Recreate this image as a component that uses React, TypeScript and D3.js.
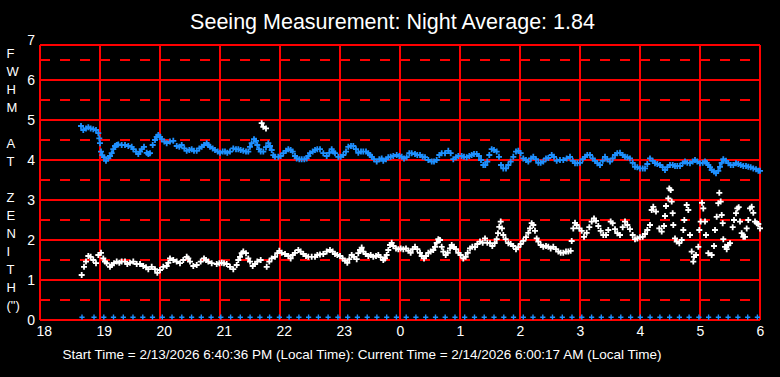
import React from "react";
import * as d3 from "d3";

// ---- data (minutes after 18:00, FWHM arcsec) ----
const titleText = "Seeing Measurement: Night Average: 1.84";
const footerText =
  "Start Time = 2/13/2026 6:40:36 PM (Local Time): Current Time = 2/14/2026 6:00:17 AM (Local Time)";
const hourLabels = ["18", "19", "20", "21", "22", "23", "0", "1", "2", "3", "4", "5", "6"];
const yTickValues = [0, 1, 2, 3, 4, 5, 6, 7];
const yAxisLetters = ["F", "W", "H", "M", "", "A", "T", "", "Z", "E", "N", "I", "T", "H", "(\")"];

const upperSeeing: [number, number][] = [
  [41, 4.85], [43.3, 4.75], [46, 4.79], [48.3, 4.82], [50.7, 4.79], [53.3, 4.77], [56, 4.75], [58.3, 4.67],
  [59.3, 4.54], [60, 4.42], [61, 4.21], [62.3, 4.12], [64, 4.07], [66, 3.98], [68.3, 4.04], [70, 4.1],
  [71.7, 4.17], [73.3, 4.27], [75, 4.35], [76.7, 4.375], [78.3, 4.39], [81.7, 4.375], [85, 4.375], [88.3, 4.35],
  [91.7, 4.33], [93.3, 4.27], [96, 4.21], [98.3, 4.15], [100, 4.21], [101.7, 4.27], [104, 4.33], [106.7, 4.18],
  [108.3, 4.15], [110, 4.17], [112.7, 4.375], [115, 4.5], [116.7, 4.58], [118.3, 4.625], [120, 4.58], [121.7, 4.52],
  [124.3, 4.46], [126.7, 4.42], [130, 4.46], [133.3, 4.48], [136.7, 4.35], [139.3, 4.33], [141.7, 4.375], [144.3, 4.29],
  [146.7, 4.23], [149.3, 4.25], [151.7, 4.27], [154, 4.23], [156.7, 4.23], [159.3, 4.29], [161.7, 4.33], [164, 4.375],
  [166.7, 4.42], [168.3, 4.375], [170, 4.33], [172.7, 4.29], [175, 4.25], [177.7, 4.21], [180, 4.18], [182.7, 4.21],
  [185, 4.21], [187.3, 4.18], [190, 4.21], [193.3, 4.29], [196, 4.27], [198.3, 4.27], [200.7, 4.25], [203.3, 4.23],
  [206, 4.21], [208.3, 4.21], [210, 4.33], [211.7, 4.42], [214, 4.52], [216, 4.48], [217.3, 4.375], [219, 4.27],
  [220.7, 4.21], [223.3, 4.21], [226, 4.32], [228.3, 4.42], [230, 4.35], [231.7, 4.25], [233.3, 4.12], [235, 4.08],
  [238.3, 4.08], [240.7, 4.1], [243.3, 4.17], [246, 4.23], [248.3, 4.27], [250.7, 4.25], [252.7, 4.21], [255, 4.1],
  [256.7, 4.04], [259.3, 4.02], [261.7, 4.02], [264.3, 4.02], [266.7, 4.04], [268.3, 4.1], [270, 4.17], [272.7, 4.21],
  [275, 4.25], [277.3, 4.27], [280, 4.27], [283.3, 4.17], [286.7, 4.1], [289.3, 4.18], [291.7, 4.27], [293.3, 4.21],
  [295, 4.17], [298.3, 4.08], [300.7, 4.08], [303.3, 4.125], [306, 4.21], [308.3, 4.33], [311, 4.35], [313.3, 4.35],
  [316, 4.27], [318.3, 4.18], [321, 4.21], [323.3, 4.21], [326, 4.21], [328.3, 4.17], [330, 4.125], [331.7, 4.08],
  [334, 4.02], [336.7, 3.96], [339.3, 4.02], [341.7, 4.04], [343.3, 3.98], [346, 4.02], [348.3, 4.07], [350.7, 4.08],
  [353.3, 4.1], [356.7, 4.125], [359.3, 4.1], [361.7, 4.08], [364, 4.04], [366.7, 4.07], [369.3, 4.17], [371.7, 4.17],
  [375, 4.15], [377.3, 4.125], [380, 4.125], [382.7, 4.08], [385, 4.07], [388.3, 4.0], [391.7, 3.96], [394, 3.96],
  [396.7, 4.0], [399.3, 4.125], [401.7, 4.17], [405, 4.17], [408.3, 4.23], [410.7, 4.17], [413.3, 4.02], [416, 4.07],
  [418.3, 4.1], [421.7, 4.1], [424, 4.08], [426.7, 4.07], [429.3, 4.1], [431.7, 4.125], [434, 4.15], [436.7, 4.15],
  [439, 4.1], [441, 4.0], [443.3, 3.875], [445.3, 3.875], [447.3, 3.96], [449.3, 4.125], [451.7, 4.27], [454, 4.25],
  [456.7, 4.21], [459, 4.08], [461, 3.875], [463.3, 3.79], [466, 3.79], [468.3, 3.875], [470.7, 3.96], [473.3, 4.08],
  [476, 4.21], [478.3, 4.23], [480.7, 4.17], [483.3, 4.04], [486, 4.0], [488.3, 3.96], [491, 4.04], [493.3, 4.08],
  [496, 4.02], [498.3, 3.93], [500.7, 3.93], [503.3, 3.96], [506, 4.04], [508.3, 4.05], [511.7, 4.125], [514, 4.08],
  [516.7, 3.98], [520, 4.0], [523.3, 4.0], [526.7, 4.04], [530, 4.08], [532.7, 3.98], [535, 3.92], [537.3, 3.92],
  [540, 3.93], [542.7, 4.02], [545, 4.08], [547.3, 4.125], [550, 4.125], [552.7, 4.04], [555, 3.98], [557.3, 3.92],
  [560, 3.875], [562.7, 3.98], [565, 4.08], [567.3, 4.02], [570, 3.96], [572.7, 4.04], [575, 4.125], [577.3, 4.17],
  [580, 4.18], [582.7, 4.125], [585, 4.08], [587.3, 4.07], [590, 4.04], [592.7, 3.93], [595, 3.83], [597.3, 3.82],
  [600, 3.79], [602.7, 3.79], [605, 3.79], [607.3, 3.9], [610, 4.04], [612.7, 3.98], [615, 3.92], [617.3, 3.9],
  [620, 3.875], [622.7, 3.82], [625, 3.75], [627.3, 3.82], [630, 3.875], [632.7, 3.875], [635, 3.85], [637.3, 3.85],
  [640, 3.85], [642.7, 3.92], [645, 3.96], [647.3, 3.93], [650, 3.92], [652.7, 3.96], [655, 4.0], [657.3, 3.96],
  [660, 3.92], [662.7, 3.93], [665, 3.96], [666.7, 3.93], [668.3, 3.875], [670, 3.82], [671.7, 3.75], [674, 3.71],
  [676, 3.67], [678.3, 3.73], [680, 3.83], [681.7, 3.93], [683.3, 4.02], [686, 3.98], [688.3, 3.92], [690.7, 3.875],
  [693.3, 3.875], [696, 3.92], [698.3, 3.9], [700.7, 3.875], [703.3, 3.85], [706, 3.85], [708.3, 3.83], [710.7, 3.82],
  [713.3, 3.79], [716, 3.77], [718.3, 3.73], [720, 3.73],
];

const lowerSeeing: [number, number][] = [
  [41.7, 1.125], [44, 1.33], [46, 1.46], [48.3, 1.6], [50.7, 1.58], [53.3, 1.5], [56, 1.42], [58.3, 1.625],
  [61, 1.68], [63.3, 1.54], [65, 1.46], [66.7, 1.42], [70, 1.33], [71.7, 1.375], [74, 1.42], [76.7, 1.46],
  [79.3, 1.43], [81.7, 1.46], [85, 1.46], [87.3, 1.4], [90, 1.43], [93.3, 1.46], [96.7, 1.4], [100, 1.4],
  [103.3, 1.35], [106, 1.32], [108.3, 1.27], [111.7, 1.33], [115, 1.27], [117.3, 1.18], [120, 1.25], [123.3, 1.33],
  [126.7, 1.35], [128.3, 1.43], [130, 1.54], [133.3, 1.5], [136.7, 1.46], [140, 1.42], [143.3, 1.5], [146.7, 1.58],
  [148.3, 1.54], [150, 1.46], [153.3, 1.35], [156.7, 1.375], [160.7, 1.46], [164, 1.54], [166, 1.5], [168.3, 1.46],
  [171.7, 1.42], [176.7, 1.4], [179.3, 1.42], [181.7, 1.43], [184, 1.42], [186.7, 1.4], [190, 1.33], [193.3, 1.27],
  [196.7, 1.375], [198.3, 1.5], [200, 1.58], [201.7, 1.67], [203.3, 1.71], [206, 1.67], [208.3, 1.54], [210, 1.46],
  [212.7, 1.35], [215, 1.4], [217.3, 1.46], [220.7, 1.5], [226.7, 1.33], [229.3, 1.46], [231.7, 1.54], [235, 1.58],
  [237.3, 1.67], [239.3, 1.73], [241.7, 1.68], [245, 1.65], [248.3, 1.6], [250.7, 1.54], [252.7, 1.625], [255, 1.68],
  [258.3, 1.75], [260.7, 1.71], [263.3, 1.65], [266, 1.6], [268.3, 1.58], [271.7, 1.58], [275, 1.58], [277.3, 1.625],
  [280, 1.64], [283.3, 1.65], [286.7, 1.71], [290, 1.75], [292.7, 1.71], [295, 1.65], [297.3, 1.625], [300, 1.6],
  [302.7, 1.54], [305, 1.48], [307.3, 1.43], [309.3, 1.52], [311.7, 1.625], [314, 1.58], [316.7, 1.52], [318.3, 1.67],
  [320, 1.75], [321.7, 1.81], [323.3, 1.71], [325.7, 1.65], [328.3, 1.6], [330.7, 1.625], [333.3, 1.58], [336, 1.6],
  [338.3, 1.625], [340.7, 1.57], [343.3, 1.5], [345, 1.54], [346.7, 1.625], [348.3, 1.75], [350, 1.875], [351.7, 1.93],
  [353.3, 1.85], [356, 1.79], [358.3, 1.77], [360.7, 1.79], [363.3, 1.77], [366, 1.79], [368.3, 1.73], [370.7, 1.68],
  [372.7, 1.77], [375, 1.83], [377.3, 1.77], [380, 1.68], [381.7, 1.6], [384, 1.54], [386, 1.6], [388.3, 1.68],
  [390.7, 1.71], [393.3, 1.75], [395, 1.83], [396.7, 1.93], [398.3, 2.02], [400, 2.0], [401.7, 1.83], [403.3, 1.71],
  [405.7, 1.625], [407.7, 1.68], [410, 1.79], [411.7, 1.875], [414, 1.83], [416, 1.77], [418.3, 1.68], [420.7, 1.625],
  [423.3, 1.54], [425.7, 1.58], [427.7, 1.68], [430, 1.79], [432.3, 1.83], [435, 1.82], [437.3, 1.9], [440, 1.96],
  [442.7, 1.93], [445, 2.04], [447.3, 1.93], [450, 1.92], [452.3, 1.85], [454.7, 1.92], [456.7, 2.02], [458, 2.17],
  [459.3, 2.33], [460.7, 2.46], [462, 2.29], [463.3, 2.125], [465.7, 2.02], [468.3, 1.92], [470.7, 1.9], [473.3, 1.85],
  [476, 1.77], [478.3, 1.82], [480.7, 1.9], [483.3, 1.98], [486, 2.07], [488.3, 2.18], [490, 2.29], [491.7, 2.42],
  [493.3, 2.375], [495, 2.23], [496.7, 2.04], [498.3, 1.96], [500.7, 1.875], [503.3, 1.83], [506, 1.85], [508.3, 1.83],
  [510.7, 1.79], [513.3, 1.83], [516, 1.77], [518.3, 1.71], [520.7, 1.68], [523.3, 1.68], [526, 1.71], [528.3, 1.71],
  [530.7, 1.73], [531.7, 1.975], [533.3, 2.29], [535, 2.43], [536.7, 2.375], [539.3, 2.29], [541.7, 2.23], [544, 2.08],
  [546.7, 2.18], [549.3, 2.32], [551.7, 2.46], [554, 2.54], [556, 2.48], [558.3, 2.35], [560.7, 2.23], [563.3, 2.125],
  [566, 2.125], [568.3, 2.25], [570.7, 2.46], [572.7, 2.42], [575, 2.27], [577.3, 2.17], [580, 2.125], [582.7, 2.32],
  [585, 2.46], [587.3, 2.375], [590, 2.27], [592.7, 2.125], [595, 2.02], [597.3, 2.04], [600, 2.07], [602.7, 2.08],
  [605, 2.15], [607.3, 2.25], [610, 2.375],
  [611.7, 2.75], [613.3, 2.83], [616, 2.71], [619.3, 2.29], [621.7, 2.21], [624, 2.35], [625, 2.6], [626, 2.85],
  [628.3, 3.04], [629.3, 3.29], [630.7, 3.25], [631.7, 2.96], [632.7, 2.67], [633.3, 2.375], [635, 2.04], [636.7, 1.96],
  [639.3, 1.92], [641.7, 2.0], [643.3, 2.25], [644.3, 2.5], [646.7, 2.875], [648.3, 2.75], [650, 2.125], [651.7, 1.71],
  [653.3, 1.46], [654, 1.58], [656, 1.625], [658.3, 1.83], [659.3, 2.25], [660.7, 2.46], [662, 2.93], [663.3, 2.79],
  [665, 2.46], [666, 2.125], [668.3, 1.67], [671.7, 1.625], [674, 1.85], [675, 2.25], [676.7, 2.58], [678.3, 2.92],
  [679.3, 3.18], [680.7, 2.96], [681.7, 2.625], [682.7, 2.42], [683.3, 2.02], [685, 1.83], [686.7, 1.77], [688.3, 1.875],
  [690, 1.92], [692.7, 2.32], [694, 2.5], [696, 2.67], [697.3, 2.79], [698.7, 2.82], [700, 2.46], [701.7, 2.17],
  [703.3, 2.08], [705, 2.08], [706.7, 2.29], [708.3, 2.5], [710, 2.79], [711.7, 2.83], [713.3, 2.68], [715, 2.46],
  [716.7, 2.42], [718.3, 2.4], [720, 2.29],
  // stray high readings near 21:40
  [221.7, 4.92], [223.3, 4.83], [226, 4.79],
];

const zeroMinutes = [
  42, 54, 63.8, 73.5, 83.3, 93, 102.8, 112.5, 122.3, 132, 141.8, 151.6, 161.3, 171.1, 180.8, 190.6, 200.3,
  210.1, 219.9, 229.6, 239.4, 249.1, 258.9, 268.6, 278.4, 288.1, 297.9, 307.7, 317.4, 327.2, 336.9, 346.7,
  356.4, 366.2, 375.9, 385.7, 395.5, 405.2, 415, 424.7, 434.5, 444.2, 454, 463.8, 473.5, 483.3, 493, 502.8,
  512.5, 522.3, 532, 541.8, 551.6, 561.3, 571.1, 580.8, 590.6, 600.3, 610.1, 619.9, 629.6, 639.4, 649.1,
  658.9, 668.6, 678.4, 688.1, 697.9, 707.7, 717.4,
];
const zeroValue = 0.07;

// ---- layout ----
const W = 780;
const H = 377;
const FONT = "'Liberation Sans', Arial, sans-serif";
const RED = "#ff0000";
const BLUE = "#1e90ff";

export default function App() {
  const x = d3.scaleLinear().domain([0, 720]).range([40, 760]);
  const y = d3.scaleLinear().domain([0, 7]).range([320, 40]);
  const topVal = 6.875;
  const yTop = y(topVal);
  const hourTicks = d3.range(0, 721, 60);
  const halfTicks = d3.range(0.5, 7, 1);
  const fullTicks = d3.range(1, 7, 1);

  const plus = (px: number, py: number, a = 3) =>
    `M${px - a},${py}H${px + a}M${px},${py - a}V${py + a}`;

  const upperPath = upperSeeing.map(([m, v]) => plus(x(m), y(v))).join("");
  const lowerPath = lowerSeeing.map(([m, v]) => plus(x(m), y(v))).join("");
  const zeroPath = zeroMinutes.map((m) => plus(x(m), y(zeroValue), 2.6)).join("");

  const gridProps = { stroke: RED, strokeWidth: 2, shapeRendering: "crispEdges" as const };

  return (
    <svg
      width={W}
      height={H}
      style={{ position: "absolute", left: 0, top: 0, background: "#000", display: "block" }}
      fontFamily={FONT}
    >
      <rect x={0} y={0} width={W} height={H} fill="#000" />
      {/* dashed half grid */}
      {halfTicks.map((v) => (
        <line key={"h" + v} x1={x(0)} x2={x(720)} y1={y(v)} y2={y(v)} {...gridProps} strokeDasharray="10,10" />
      ))}
      {/* solid grid */}
      {fullTicks.map((v) => (
        <line key={"f" + v} x1={x(0)} x2={x(720)} y1={y(v)} y2={y(v)} {...gridProps} />
      ))}
      {hourTicks.map((m) => (
        <line key={"v" + m} x1={x(m)} x2={x(m)} y1={yTop} y2={y(0)} {...gridProps} />
      ))}
      <line x1={x(0)} x2={x(720)} y1={yTop} y2={yTop} {...gridProps} />
      <line x1={x(0)} x2={x(720)} y1={y(0)} y2={y(0)} {...gridProps} />

      {/* data */}
      <path d={zeroPath} stroke={BLUE} strokeWidth={1.4} fill="none" />
      <path d={upperPath} stroke={BLUE} strokeWidth={1.8} fill="none" />
      <path d={lowerPath} stroke="#ffffff" strokeWidth={1.8} fill="none" />

      {/* y ticks */}
      {yTickValues.map((v) => (
        <text key={"yt" + v} x={35} y={y(v) + 5} fill="#fff" fontSize={14} textAnchor="end">
          {v}
        </text>
      ))}
      {/* x ticks */}
      {hourTicks.map((m, i) => (
        <text key={"xt" + m} x={x(m) - 3.5} y={335.5} fill="#fff" fontSize={14} textAnchor="start">
          {hourLabels[i]}
        </text>
      ))}
      {/* y axis title letters */}
      {yAxisLetters.map((c, i) => (
        <text key={"yl" + i} x={6.5} y={57.5 + i * 18} fill="#fff" fontSize={13}>
          {c}
        </text>
      ))}
      <text x={392.5} y={29.3} fill="#fff" fontSize={21.5} textAnchor="middle">
        {titleText}
      </text>
      <text x={362} y={359.3} fill="#fff" fontSize={13.5} textAnchor="middle">
        {footerText}
      </text>
    </svg>
  );
}
